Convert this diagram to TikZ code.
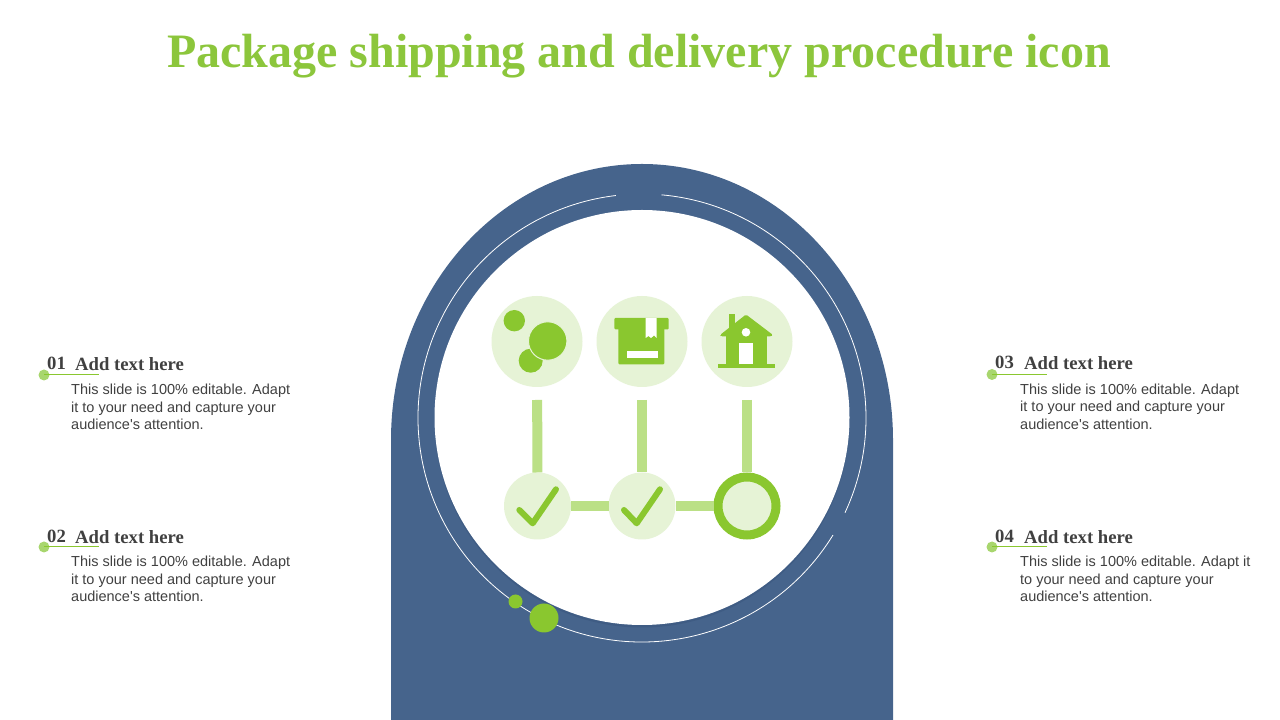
\documentclass[tikz,border=0pt]{standalone}
\usepackage{fontspec}
\usepackage{tikz}
\newfontfamily\headfont{Liberation Serif}
\newfontfamily\bodyfont{Liberation Sans}
\definecolor{archblue}{HTML}{46648C}
\definecolor{archshade}{HTML}{3F5C84}
\definecolor{leafgreen}{HTML}{8AC72F}
\definecolor{titlegreen}{HTML}{8CC63C}
\definecolor{palegreen}{HTML}{E6F3D6}
\definecolor{bargreen}{HTML}{BBE086}
\definecolor{dotgreen}{HTML}{A8D66E}
\definecolor{inktext}{HTML}{404040}
\tikzset{iconbub/.style = {circle, fill=palegreen, minimum size=91pt, inner sep=0pt, outer sep=0pt},
         checkbub/.style = {circle, fill=palegreen, minimum size=67pt, inner sep=0pt, outer sep=0pt},
         ringbub/.style = {circle, fill=palegreen, draw=leafgreen, line width=9pt, minimum size=58pt, inner sep=0pt, outer sep=4.5pt},
         greendot/.style = {circle, fill=leafgreen, inner sep=0pt, outer sep=0pt},
         sidedot/.style = {circle, fill=dotgreen, minimum size=11pt, inner sep=0pt, outer sep=0pt},
         barline/.style = {draw=bargreen, line width=10pt},
         ringline/.style = {draw=white, line width=0.8pt},
         tickline/.style = {draw=leafgreen, line width=1pt},
         checkline/.style = {draw=leafgreen, line width=6pt, line cap=round, line join=round},
         numtxt/.style = {anchor=base west, inner sep=0pt, text=inktext, font=\headfont\bfseries\fontsize{18.7}{22}\selectfont},
         bodytxt/.style = {anchor=north west, inner sep=0pt, align=left, text=inktext, font=\bodyfont\fontsize{14.5}{17.5}\selectfont}}

\begin{document}
\begin{tikzpicture}[x=1pt, y=1pt]
      \useasboundingbox (0, 0) rectangle (1280, 720);
      \node [anchor=base, inner sep=0pt, text=titlegreen, font=\headfont\bfseries\fontsize{48}{56}\selectfont] (title) at (639, 652) {Package shipping and delivery procedure icon};

      \fill [archblue] (391, 0) -- (391, 280) arc (180:0:251 and 276) -- (893, 0) -- cycle;
      \fill [archshade] (642, 300) circle (207.5);
      \fill [white] (642, 302.5) circle (207.5);
      \draw [ringline] (642, 302) ++(85:224) arc (85:-25:224);
      \draw [ringline] (642, 302) ++(-31.5:224) arc (-31.5:-263.3:224);
      \node [greendot, minimum size=29pt] (dotbig) at (544, 102) {};
      \node [greendot, minimum size=14pt] (dotsmall) at (515.5, 118.5) {};

      \foreach \n/\x in {1/537, 2/642, 3/747} {
        \node [iconbub] (icon\n) at (\x, 378.5) {};
      }
      \node [checkbub] (check1) at (537.5, 214) {};
      \node [checkbub] (check2) at (642, 214) {};
      \node [ringbub] (check3) at (747, 214) {};
      \foreach \n in {1,2,3} {
        \draw [barline, shorten <=13pt] (icon\n) -- (check\n);
      }
      \draw [barline] (check1) -- (check2);
      \draw [barline] (check2) -- (check3);

      % bubbles
      \fill [leafgreen] (514.3, 399.3) circle (10.7);
      \fill [leafgreen] (530.7, 359.3) circle (12);
      \filldraw [leafgreen, draw=palegreen, line width=1pt] (547.7, 379) circle (19.2);
      % box
      \fill [leafgreen, rounded corners=1pt] (614.3, 402) rectangle (668.7, 390.7);
      \fill [leafgreen, rounded corners=1pt] (618.3, 392) rectangle (664.3, 355.7);
      \fill [white] (645.7, 402) -- (656.7, 402) -- (656.7, 382) -- (654, 384.5) -- (651, 382) -- (648.5, 384) -- (645.7, 382) -- cycle;
      \fill [white] (627, 369.3) rectangle (657.7, 361.7);
      % house
      \fill [leafgreen] (729, 406) rectangle (735, 392);
      \fill [leafgreen, rounded corners=1.5pt] (746, 405.5) -- (773, 385) -- (771, 383.5) -- (721, 383.5) -- (720, 385) -- cycle;
      \fill [leafgreen] (726, 385) rectangle (767.3, 355);
      \fill [leafgreen] (718, 351.7) rectangle (775.3, 355.7);
      \fill [white] (746, 387.7) circle (4.3);
      \fill [white] (739, 376.7) rectangle (753.3, 355.7);

      \draw [checkline] (519.3, 210) -- (532.7, 196.7) -- (556, 230.7);
      \draw [checkline] (624, 210) -- (636.7, 196.7) -- (660, 230.7);

      \foreach \n/\d/\a/\b/\c/\l/\t/\body in {
          1/44/47/75/71/345/349/{This slide is 100\% editable.  Adapt\\it to your need and capture your\\audience's attention.},
          2/44/47/75/71/173/176.5/{This slide is 100\% editable.  Adapt\\it to your need and capture your\\audience's attention.},
          3/992/995/1024/1020/345.5/350/{This slide is 100\% editable.  Adapt\\it to your need and capture your\\audience's attention.},
          4/992/995/1024/1020/173/176.5/{This slide is 100\% editable.  Adapt it\\to your need and capture your\\audience's attention.}} {
        \coordinate (tick\n) at (\d+55, \l);
        \node [sidedot] (side\n) at (\d, \l) {};
        \draw [tickline] (side\n.center) -- (tick\n);
        \node [numtxt] (num\n) at (\a, \t+1) {0\n};
        \node [numtxt] (head\n) at (\b, \t) {Add text here};
        \node [bodytxt] (body\n) at (\c, \l-9) {\body};
      }
    \end{tikzpicture}
\end{document}
